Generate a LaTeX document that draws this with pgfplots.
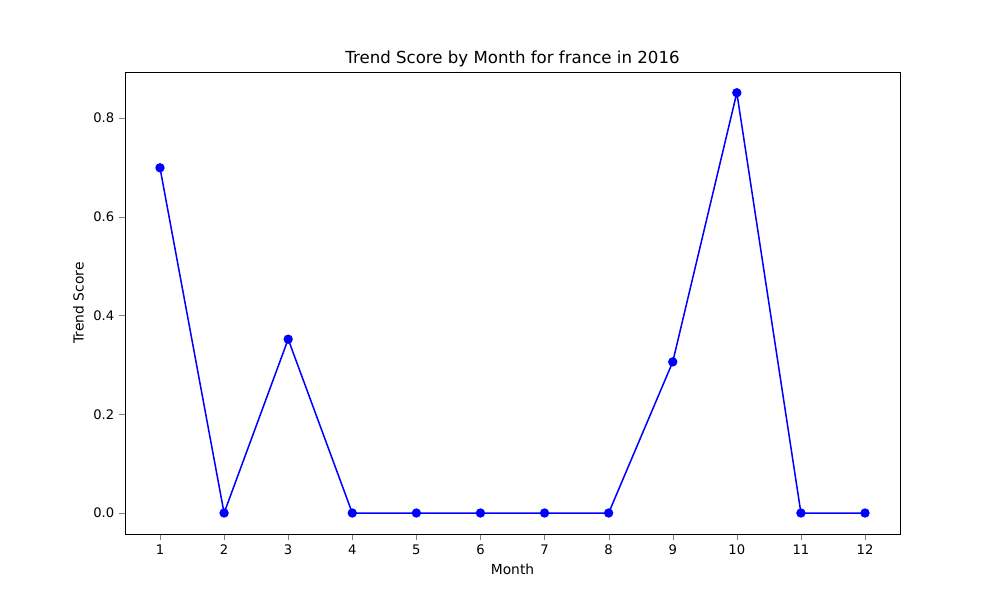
\documentclass[border=0pt]{standalone}
\usepackage{fontspec}
\setmainfont{DejaVu Sans}
\usepackage{pgfplots}
\pgfplotsset{compat=1.18}
\begin{document}
\begin{tikzpicture}
\path[use as bounding box] (0,0) rectangle (10in,6in);
\begin{axis}[at={(1.25in,0.66in)}, anchor=south west, scale only axis,
 width=7.75in, height=4.62in,
 xmin=0.454, xmax=12.546, ymin=-0.0425, ymax=0.893,
 xtick={1,...,12}, ytick={0,0.2,0.4,0.6,0.8},
 yticklabel style={/pgf/number format/.cd,fixed,fixed zerofill,precision=1},
 /pgf/number format/assume math mode=true,
 tick align=outside, tick pos=left,
 ticklabel style={font=\fontsize{9.5}{11}\selectfont},
 title={Trend Score by Month for france in 2016},
 title style={font=\fontsize{12}{14}\selectfont, yshift=-6pt},
 xlabel={Month}, ylabel={Trend Score},
 label style={font=\fontsize{10}{12}\selectfont},
]
\addplot[blue, line width=1.1pt, mark=*, mark size=2.8pt, mark options={fill=blue}] coordinates {
(1,0.699)(2,0)(3,0.352)(4,0)(5,0)(6,0)(7,0)(8,0)(9,0.306)(10,0.851)(11,0)(12,0)};
\end{axis}
\end{tikzpicture}
\end{document}
